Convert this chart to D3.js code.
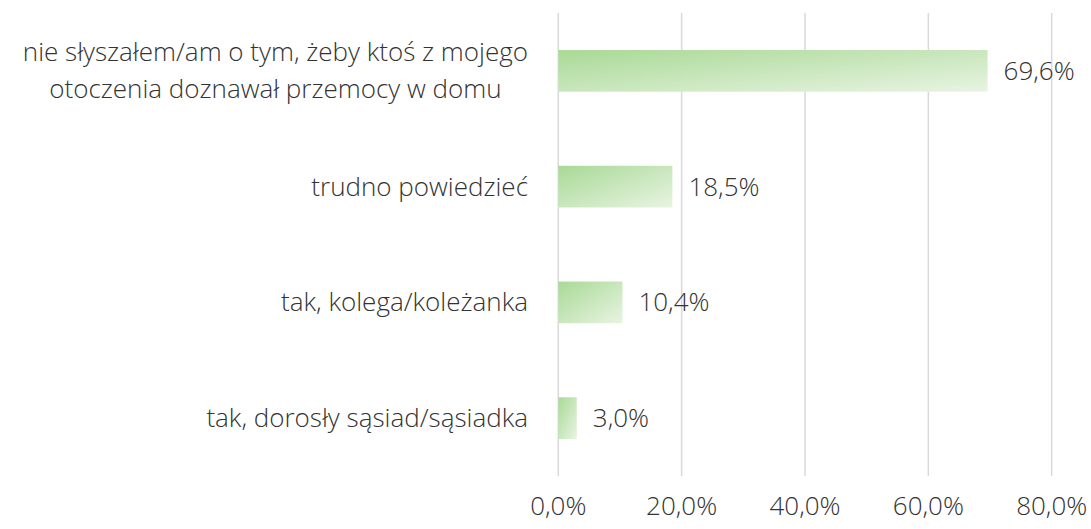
<!DOCTYPE html>
<html><head><meta charset="utf-8">
<script src="https://cdn.jsdelivr.net/npm/d3@7"></script>
<style>body{margin:0;background:#fff}svg{display:block}text{font-family:"Open Sans",sans-serif;font-weight:300;fill:#333}</style>
</head><body><svg id="c" width="1091" height="529"></svg>
<script>
const categories = [
  ["nie słyszałem/am o tym, żeby ktoś z mojego", "otoczenia doznawał przemocy w domu"],
  ["trudno powiedzieć"],
  ["tak, kolega/koleżanka"],
  ["tak, dorosły sąsiad/sąsiadka"]
];
const values = [69.6, 18.5, 10.4, 3.0];
const tickValues = [0, 20, 40, 60, 80];

const FS = 26;
const svg = d3.select("#c");
const x = d3.scaleLinear().domain([0, 80]).range([558.3, 1051.7]);
const y = d3.scaleBand().domain(d3.range(categories.length)).range([13, 476]).paddingInner(0.64).paddingOuter(0.32);
const fmt = v => d3.format(".1f")(v).replace(".", ",") + "%";

const defs = svg.append("defs");
const g = defs.append("linearGradient").attr("id", "grad").attr("x1", 0).attr("y1", 0).attr("x2", 1).attr("y2", 1);
g.append("stop").attr("offset", "0%").attr("stop-color", "#a9d996");
g.append("stop").attr("offset", "100%").attr("stop-color", "#e8f4e2");

svg.append("g").selectAll("line").data(tickValues).join("line")
  .attr("x1", d => x(d)).attr("x2", d => x(d)).attr("y1", 13).attr("y2", 476)
  .attr("stroke", "#d9d9d9").attr("stroke-width", 1.5);

svg.append("g").selectAll("rect").data(values).join("rect")
  .attr("x", x(0)).attr("y", (d, i) => y(i)).attr("width", d => x(d) - x(0)).attr("height", y.bandwidth())
  .attr("fill", "url(#grad)");

svg.append("g").selectAll("text").data(values).join("text")
  .attr("x", d => x(d) + 16).attr("y", (d, i) => y(i) + y.bandwidth() / 2).attr("dy", "0.35em")
  .attr("font-size", FS).text(d => fmt(d));

svg.append("g").selectAll("text").data(tickValues).join("text")
  .attr("x", d => x(d)).attr("y", 506).attr("dy", "0.35em").attr("text-anchor", "middle")
  .attr("font-size", FS).text(d => fmt(d));

const labelRight = 528;
categories.forEach((lines, i) => {
  const cy = y(i) + y.bandwidth() / 2;
  const lh = 37;
  const t = svg.append("text").attr("font-size", FS);
  lines.forEach((ln, j) => {
    t.append("tspan").attr("y", cy + (j - (lines.length - 1) / 2) * lh).attr("dy", "0.35em").text(ln);
  });
  const widths = t.selectAll("tspan").nodes().map(n => n.getComputedTextLength());
  const maxW = d3.max(widths);
  t.selectAll("tspan").attr("text-anchor", "middle").attr("x", labelRight - maxW / 2);
});
</script></body></html>
